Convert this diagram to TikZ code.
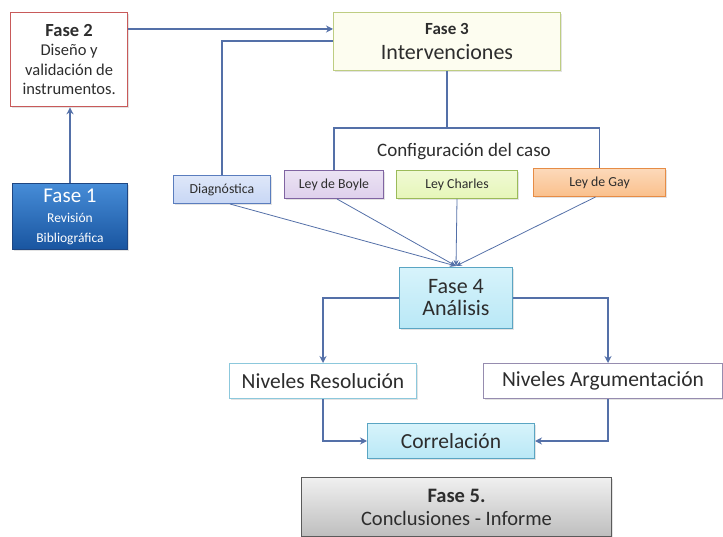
\documentclass[tikz,border=0pt]{standalone}
\usepackage{fontspec}
\setmainfont{Carlito}
\usetikzlibrary{arrows.meta,calc,shadows}
\definecolor{lineblue}{RGB}{84,112,168}
\definecolor{txt}{RGB}{45,45,45}
\definecolor{redb}{RGB}{200,90,90}
\definecolor{f1top}{RGB}{70,140,215}
\definecolor{f1bot}{RGB}{25,85,160}
\definecolor{f1b}{RGB}{30,70,130}
\definecolor{f3b}{RGB}{190,205,130}
\definecolor{f3f}{RGB}{253,253,240}
\definecolor{diagf}{RGB}{200,215,245}
\definecolor{diagb}{RGB}{90,125,190}
\definecolor{boylef}{RGB}{222,208,236}
\definecolor{boyleb}{RGB}{128,100,162}
\definecolor{charf}{RGB}{230,246,185}
\definecolor{charb}{RGB}{155,187,89}
\definecolor{gayf}{RGB}{250,192,140}
\definecolor{gayb}{RGB}{230,140,70}
\definecolor{cyanf}{RGB}{185,232,246}
\definecolor{cyanf2}{RGB}{215,243,251}
\definecolor{cyanb}{RGB}{90,165,195}
\definecolor{nrb}{RGB}{140,200,220}
\definecolor{nab}{RGB}{150,140,175}
\definecolor{grayt}{RGB}{240,240,240}
\definecolor{grayb}{RGB}{190,190,190}
\definecolor{grayd}{RGB}{90,90,90}
\tikzset{
  phasebox/.style={draw, line width=1pt, inner sep=0pt, align=center, text=txt, anchor=north west,
    drop shadow={shadow xshift=1.2pt, shadow yshift=-1.2pt, fill=black!22}},
  conn/.style={draw=lineblue, line width=1.8pt},
  connarr/.style={conn, -{Stealth[length=7pt,width=7pt]}},
  thinarr/.style={draw=lineblue, line width=0.8pt, -{Stealth[length=6pt,width=5pt]}},
}
\begin{document}
\begin{tikzpicture}[x=1pt,y=-1pt]
\useasboundingbox (0,0) rectangle (723,537);
% Fase 2
\node[phasebox, draw=redb, line width=1.3pt, fill=white, minimum width=117pt, minimum height=94pt, font=\fontsize{16.5}{19.5}\selectfont] (f2) at (10,12)
  {{\fontsize{18.5}{19.5}\selectfont\bfseries Fase 2}\\Diseño y\\validación de\\instrumentos.};
% Fase 1
\node[phasebox, draw=f1b, top color=f1top, bottom color=f1bot, minimum width=115pt, minimum height=66pt, text=white, font=\fontsize{13.5}{20}\selectfont] (f1) at (12,183)
  {{\fontsize{21}{20}\selectfont Fase 1}\\Revisión\\Bibliográfica};
% Fase 3
\node[phasebox, draw=f3b, fill=f3f, minimum width=227pt, minimum height=58pt, font=\fontsize{22}{25}\selectfont] (f3) at (333,12)
  {{\fontsize{17}{25}\selectfont\bfseries Fase 3}\\Intervenciones};
% small boxes
\tikzset{small/.style={phasebox, minimum height=28pt, font=\fontsize{13.8}{15}\selectfont}}
\node[small, draw=diagb, top color=diagf!60, bottom color=diagf, minimum width=97pt] (diag) at (173,175) {Diagnóstica};
\node[small, draw=boyleb, top color=boylef!60, bottom color=boylef, minimum width=99pt] (boyle) at (284,170) {Ley de Boyle};
\node[small, draw=charb, top color=charf!60, bottom color=charf, minimum width=121pt] (char) at (396,170) {Ley Charles};
\node[small, draw=gayb, top color=gayf!60, bottom color=gayf, minimum width=132pt] (gay) at (533,168) {Ley de Gay};
\node[text=txt, font=\fontsize{19}{21}\selectfont] (conf) at (464,152) {Configuración del caso};
% Fase 4
\node[phasebox, draw=cyanb, top color=cyanf2, bottom color=cyanf, minimum width=113pt, minimum height=61pt, font=\fontsize{22}{22}\selectfont] (f4) at (399,267) {Fase 4\\Análisis};
% Niveles
\node[phasebox, draw=nrb, fill=white, minimum width=187pt, minimum height=35pt, font=\fontsize{21.5}{24}\selectfont] (nr) at (229,363) {Niveles Resolución};
\node[phasebox, draw=nab, fill=white, minimum width=239pt, minimum height=35pt, font=\fontsize{21.5}{24}\selectfont] (na) at (483,363) {Niveles Argumentación};
\node[phasebox, draw=cyanb, top color=cyanf2, bottom color=cyanf, minimum width=167pt, minimum height=35pt, font=\fontsize{21.5}{24}\selectfont] (corr) at (367,423) {Correlación};
% Fase 5
\node[phasebox, draw=grayd, top color=grayt, bottom color=grayb, minimum width=310pt, minimum height=59pt, font=\fontsize{20.5}{23}\selectfont] (f5) at (301,477)
  {{\bfseries Fase 5.}\\Conclusiones - Informe};
% connectors
\coordinate (bus) at (445,128);
\draw[connarr] (f1.north) -- (f1.north |- f2.south);
\draw[connarr] ([yshift=-17pt]f2.north east) -- ([yshift=-17pt]f2.north east -| f3.west);
\draw[conn] (diag.north) |- ([yshift=-29pt]f3.north west);
\draw[conn] (f3.south) -- (f3.south |- bus);
\draw[conn] (boyle.north) |- (bus) -| (gay.north);
\coordinate (meet) at ([yshift=1pt]f4.north);
\draw[thinarr] ([xshift=8pt]diag.south) -- (meet);
\draw[thinarr] ([xshift=3pt]boyle.south) -- (meet);
\draw[thinarr] (char.south) -- (meet);
\draw[thinarr] ([xshift=-4pt]gay.south) -- (meet);
\draw[connarr] (f4.west) -| (nr.north);
\draw[connarr] (f4.east) -| ([xshift=5pt]na.north);
\draw[connarr] (nr.south) |- (corr.west);
\draw[connarr] ([xshift=5pt]na.south) |- (corr.east);
\end{tikzpicture}
\end{document}
